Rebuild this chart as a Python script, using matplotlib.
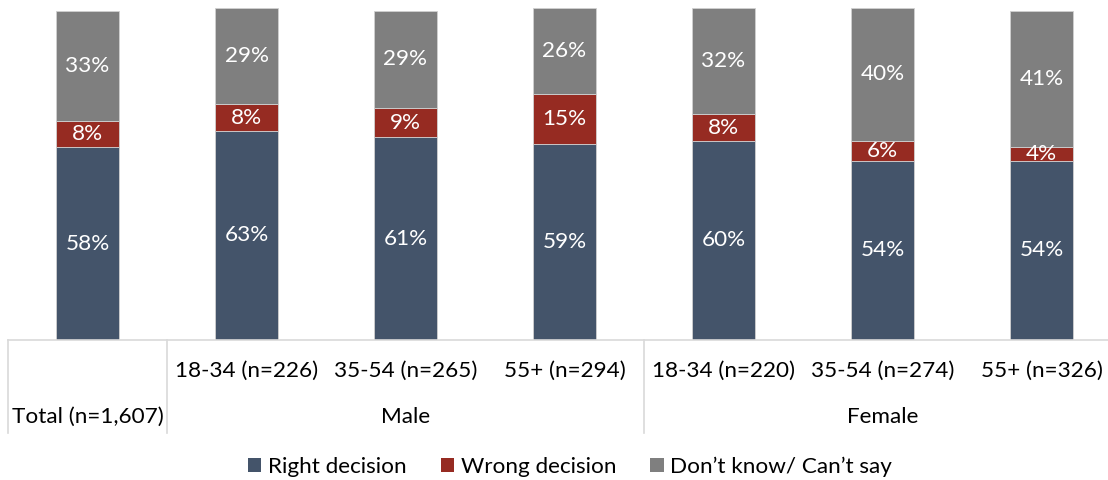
import matplotlib
matplotlib.use("Agg")
import matplotlib.pyplot as plt
from matplotlib.patches import Patch
from matplotlib.lines import Line2D
from matplotlib.transforms import blended_transform_factory

plt.rcParams['font.family'] = ['Lato', 'DejaVu Sans']

# Data
groups = ["Total (n=1,607)", "Male", "Female"]
group_spans = [(0, 0), (1, 3), (4, 6)]
sub_labels = ["", "18-34 (n=226)", "35-54 (n=265)", "55+ (n=294)",
              "18-34 (n=220)", "35-54 (n=274)", "55+ (n=326)"]
series_names = ["Right decision", "Wrong decision", "Don\u2019t know/ Can\u2019t say"]
right = [58, 63, 61, 59, 60, 54, 54]
wrong = [8, 8, 9, 15, 8, 6, 4]
dont_know = [33, 29, 29, 26, 32, 40, 41]
colors = ["#44546A", "#962B22", "#7F7F7F"]

FS = 16.2

W, H = 1108, 480
fig = plt.figure(figsize=(W / 100, H / 100), dpi=100)
ax_left, ax_bottom = 8 / W, (H - 340) / H
ax = fig.add_axes([ax_left, ax_bottom, 1 - ax_left, 1 - ax_bottom])

slot_px = 159
x = list(range(len(right)))
ax.set_xlim(-0.5, -0.5 + (W - 8) / slot_px)
ax.set_ylim(0, 102.4)

bottom = [0] * len(right)
for vals, col in zip([right, wrong, dont_know], colors):
    ax.bar(x, vals, width=0.40, bottom=bottom, color=col,
           edgecolor="#D0D0D0", linewidth=0.6)
    for xi, v, b in zip(x, vals, bottom):
        ax.text(xi, b + v / 2, f"{v}%", ha="center", va="center",
                color="white", fontsize=FS)
    bottom = [b + v for b, v in zip(bottom, vals)]

ax.set_xticks([])
ax.set_yticks([])
for s in ["top", "right", "left"]:
    ax.spines[s].set_visible(False)
ax.spines["bottom"].set_color("#D9D9D9")
ax.spines["bottom"].set_linewidth(1.2)

# Two-level category axis
tr = blended_transform_factory(ax.transData, fig.transFigure)
row1_y = 1 - 371 / H
row2_y = 1 - 417 / H
for xi, lab in zip(x, sub_labels):
    if lab:
        ax.text(xi, row1_y, lab, transform=tr, ha="center", va="center",
                fontsize=FS, color="black", clip_on=False)
for name, (a, b) in zip(groups, group_spans):
    ax.text((a + b) / 2, row2_y, name, transform=tr, ha="center", va="center",
            fontsize=FS, color="black", clip_on=False)

sep_x = [-0.5, 0.5, 3.5]
for sx in sep_x:
    fig.add_artist(Line2D([sx, sx], [1 - 340 / H, 1 - 433 / H], transform=tr,
                          color="#D9D9D9", linewidth=1.2))

handles = [Patch(facecolor=c, edgecolor="none") for c in colors]
fig.legend(handles, series_names, loc="center",
           bbox_to_anchor=(570 / W, 1 - 467 / H), ncol=3, frameon=False,
           fontsize=FS, handlelength=0.6, handleheight=0.6,
           handletextpad=0.3, columnspacing=1.5)

fig.savefig("out.png", dpi=100)
